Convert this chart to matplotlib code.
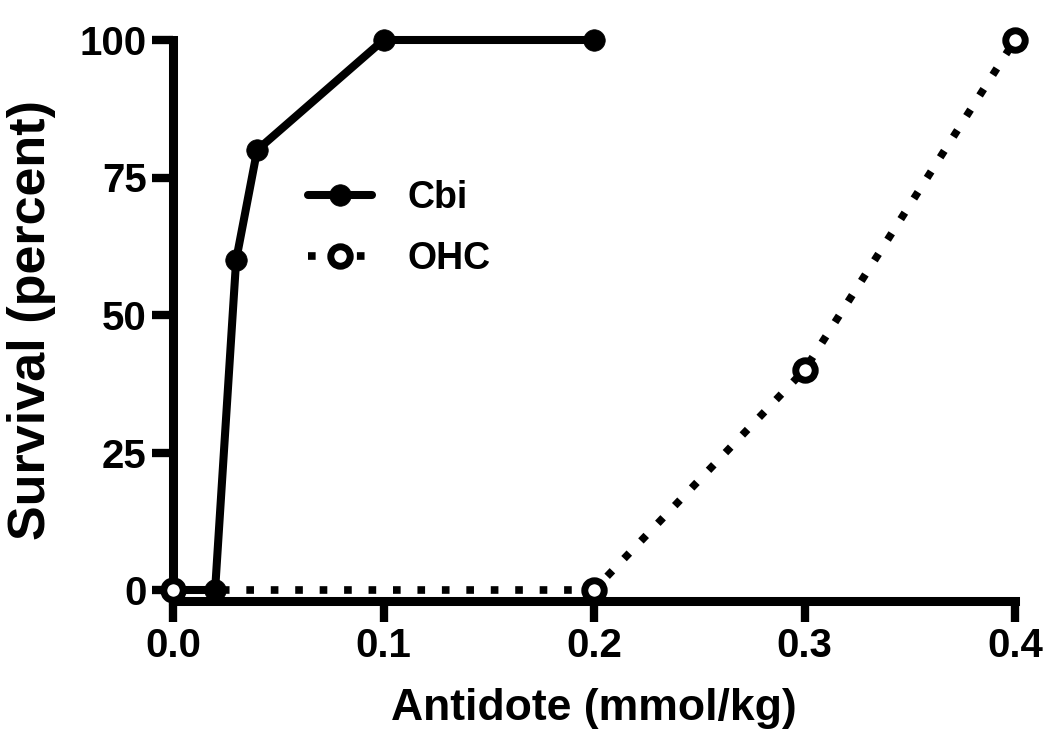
import matplotlib
matplotlib.use("Agg")
import matplotlib.pyplot as plt

plt.rcParams['font.family'] = ['Liberation Sans', 'DejaVu Sans']

cbi_x = [0.0, 0.02, 0.03, 0.04, 0.1, 0.2]
cbi_y = [0, 0, 60, 80, 100, 100]
ohc_x = [0.0, 0.2, 0.3, 0.4]
ohc_y = [0, 0, 40, 100]
xticks = [0.0, 0.1, 0.2, 0.3, 0.4]
xticklabels = ["0.0", "0.1", "0.2", "0.3", "0.4"]
yticks = [0, 25, 50, 75, 100]

fig = plt.figure(figsize=(10.5, 7.48), dpi=100)
ax = fig.add_axes([173/1050, 1 - 601/748, (1015-173)/1050, (601-40)/748])

ax.plot(ohc_x, ohc_y, color='black', lw=5.5, ls=(0, (1.0, 2.2)), marker='o',
        ms=14, mfc='white', mec='black', mew=5, label='OHC', zorder=3,
        dash_capstyle='butt')
ax.plot(cbi_x, cbi_y, color='black', lw=5.8, marker='o', ms=15.5,
        mfc='black', mec='black', mew=0.5, label='Cbi', zorder=2,
        solid_capstyle='round')

ax.set_xlim(0, 0.4)
ax.set_ylim(-2, 100)
for s in ['top', 'right']:
    ax.spines[s].set_visible(False)
for s in ['left', 'bottom']:
    ax.spines[s].set_linewidth(6.5)
    ax.spines[s].set_capstyle('projecting')
ax.set_xticks(xticks)
ax.set_xticklabels(xticklabels)
ax.set_yticks(yticks)
ax.tick_params(axis='both', length=15, width=6, labelsize=29, pad=4)
for lab in ax.get_xticklabels() + ax.get_yticklabels():
    lab.set_fontweight('bold')
ax.set_xlabel('Antidote (mmol/kg)', fontsize=32, fontweight='bold', labelpad=16)
ax.set_ylabel('Survival (percent)', fontsize=37.5, fontweight='bold', labelpad=17)

handles, labels = ax.get_legend_handles_labels()
leg = ax.legend([handles[1], handles[0]], [labels[1], labels[0]],
                loc='upper left', bbox_to_anchor=(0.160, 0.750),
                frameon=False, handlelength=1.71, borderpad=0, borderaxespad=0,
                handletextpad=0.96, labelspacing=0.67,
                prop={'weight': 'bold', 'size': 27})
for ln in ax.get_lines():
    ln.set_clip_on(False)

fig.savefig('out.png', dpi=100)
